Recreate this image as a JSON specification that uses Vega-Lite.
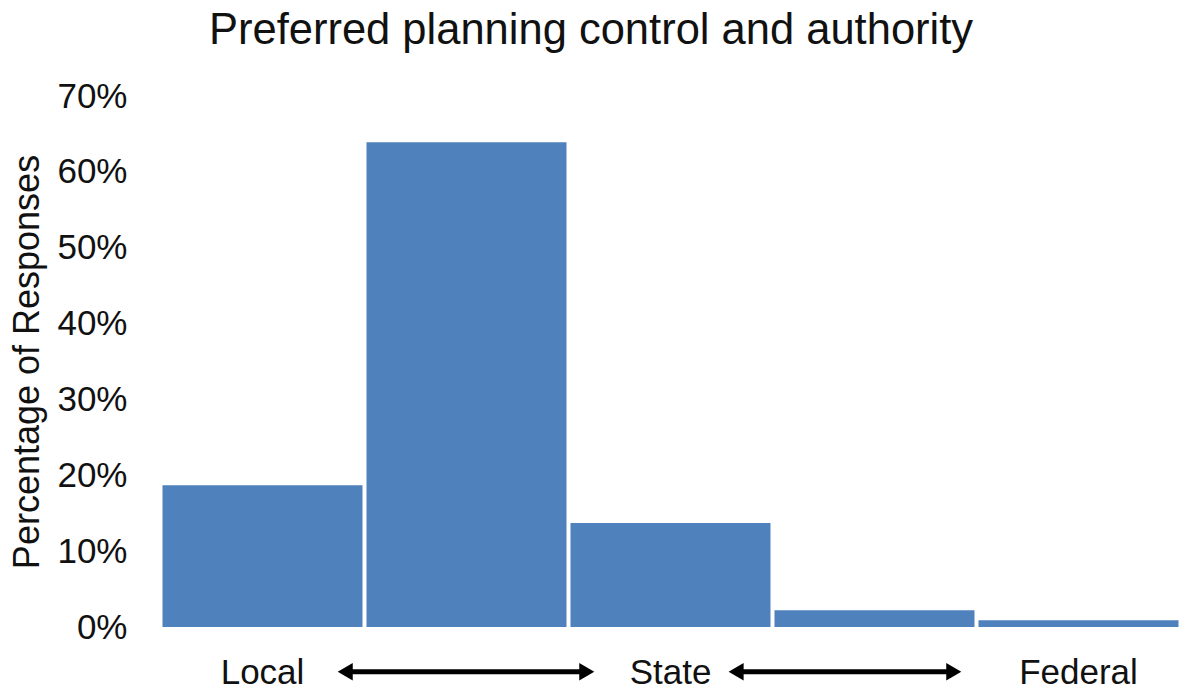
{
  "$schema": "https://vega.github.io/schema/vega-lite/v6.json",
  "width": 1020,
  "height": 531,
  "autosize": {"type": "none"},
  "padding": {"left": 160, "top": 96, "right": 0, "bottom": 62},
  "background": "white",
  "title": {
    "text": "Preferred planning control and authority",
    "font": "Liberation Sans",
    "fontSize": 43.5,
    "fontWeight": "normal",
    "color": "#111",
    "anchor": "middle",
    "dx": -79,
    "offset": 26
  },
  "config": {
    "view": {"stroke": null},
    "font": "Liberation Sans"
  },
  "datasets": {
    "bars": [
      {"category": "Local", "lo": 0, "hi": 1, "share": 0.187},
      {"category": "Local-State", "lo": 1, "hi": 2, "share": 0.639},
      {"category": "State", "lo": 2, "hi": 3, "share": 0.137},
      {"category": "State-Federal", "lo": 3, "hi": 4, "share": 0.022},
      {"category": "Federal", "lo": 4, "hi": 5, "share": 0.009}
    ],
    "arrows": [
      {"from": 0.908, "to": 2.092},
      {"from": 2.824, "to": 3.891}
    ]
  },
  "layer": [
    {
      "data": {"name": "bars"},
      "mark": {"type": "bar", "color": "#4f81bd", "binSpacing": 4},
      "encoding": {
        "x": {
          "field": "lo",
          "type": "quantitative",
          "bin": "binned",
          "scale": {"domain": [0, 5], "nice": false, "zero": false},
          "axis": {
            "values": [0.5, 2.5, 4.5],
            "labelExpr": "datum.value == 0.5 ? 'Local' : datum.value == 2.5 ? 'State' : 'Federal'",
            "title": null,
            "domain": false,
            "ticks": false,
            "tickSize": 0,
            "grid": false,
            "labelFont": "Liberation Sans",
            "labelFontSize": 35,
            "labelColor": "#111",
            "labelPadding": 28,
            "labelFlush": false
          }
        },
        "x2": {"field": "hi"},
        "y": {
          "field": "share",
          "type": "quantitative",
          "scale": {"domain": [0, 0.7], "nice": false},
          "axis": {
            "values": [0, 0.1, 0.2, 0.3, 0.4, 0.5, 0.6, 0.7],
            "format": ".0%",
            "title": "Percentage of Responses",
            "titleFont": "Liberation Sans",
            "titleFontSize": 36,
            "titleFontWeight": "normal",
            "titleColor": "#111",
            "titlePadding": 10,
            "domain": false,
            "ticks": false,
            "tickSize": 0,
            "grid": false,
            "labelFont": "Liberation Sans",
            "labelFontSize": 35,
            "labelColor": "#111",
            "labelPadding": 33
          }
        }
      }
    },
    {
      "data": {"name": "arrows"},
      "mark": {"type": "rule", "color": "black", "strokeWidth": 5},
      "encoding": {
        "x": {"field": "from", "type": "quantitative"},
        "x2": {"field": "to"},
        "y": {"datum": -0.059}
      }
    },
    {
      "data": {"name": "arrows"},
      "mark": {"type": "point", "shape": "triangle-left", "filled": true, "color": "black", "size": 300, "opacity": 1},
      "encoding": {
        "x": {"field": "from", "type": "quantitative"},
        "y": {"datum": -0.059}
      }
    },
    {
      "data": {"name": "arrows"},
      "mark": {"type": "point", "shape": "triangle-right", "filled": true, "color": "black", "size": 300, "opacity": 1},
      "encoding": {
        "x": {"field": "to", "type": "quantitative"},
        "y": {"datum": -0.059}
      }
    }
  ]
}
